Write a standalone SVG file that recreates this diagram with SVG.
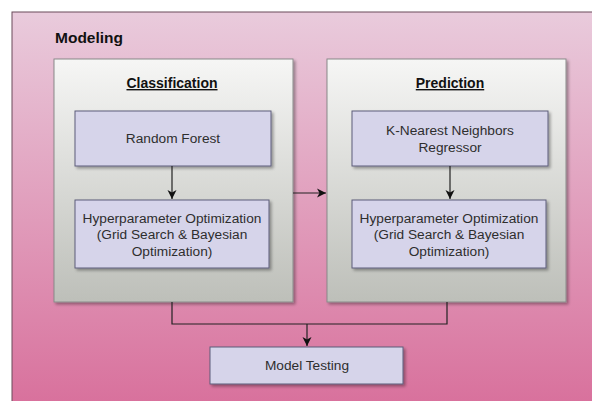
<svg xmlns="http://www.w3.org/2000/svg" width="592" height="401" viewBox="0 0 592 401">
<defs>
<linearGradient id="pink" x1="0" y1="0" x2="0" y2="1">
<stop offset="0" stop-color="#e9cbdc"/>
<stop offset="1" stop-color="#d86f9b"/>
</linearGradient>
<linearGradient id="gray" x1="0" y1="0" x2="0" y2="1">
<stop offset="0" stop-color="#f6f6f5"/>
<stop offset="1" stop-color="#bdbfb9"/>
</linearGradient>
<filter id="sh" x="-10%" y="-10%" width="130%" height="130%">
<feGaussianBlur in="SourceAlpha" stdDeviation="1.5"/>
<feOffset dx="2" dy="2"/>
<feComponentTransfer><feFuncA type="linear" slope="0.35"/></feComponentTransfer>
<feMerge><feMergeNode/><feMergeNode in="SourceGraphic"/></feMerge>
</filter>
<marker id="arr" markerWidth="10" markerHeight="10" refX="9" refY="5" orient="auto" markerUnits="userSpaceOnUse">
<path d="M0,0.5 L9,5 L0,9.5 L2.5,5 Z" fill="#111"/>
</marker>
</defs>
<style>
.t{font-family:"Liberation Sans",Arial,sans-serif;font-size:13.7px;fill:#2e2e2e;text-anchor:middle}
.h{font-family:"Liberation Sans",Arial,sans-serif;font-size:14px;font-weight:bold;fill:#111;text-anchor:middle;text-decoration:underline}
.node{fill:#d6d4ea;stroke:#5c5c7a;stroke-width:1}
.grp{fill:url(#gray);stroke:#8a8a8a;stroke-width:1}
.c{fill:none;stroke:#222;stroke-width:1.2}
</style>
<rect x="0" y="0" width="592" height="401" fill="#ffffff"/>
<g id="modeling">
<rect x="12" y="12" width="600" height="400" fill="url(#pink)" stroke="#6a4a5a" stroke-width="1"/>
<text x="55" y="43" style="font-family:'Liberation Sans',Arial,sans-serif;font-size:15.5px;font-weight:bold;fill:#111">Modeling</text>
</g>
<g id="classification">
<rect class="grp" x="54" y="59" width="239" height="243" filter="url(#sh)"/>
<text class="h" x="172" y="88">Classification</text>
</g>
<g id="prediction">
<rect class="grp" x="327" y="59" width="239" height="243" filter="url(#sh)"/>
<text class="h" x="450" y="88">Prediction</text>
</g>
<g id="random-forest">
<rect class="node" x="75" y="111" width="196" height="55" filter="url(#sh)"/>
<text class="t" x="173" y="143">Random Forest</text>
</g>
<g id="hpo-left">
<rect class="node" x="75" y="200" width="194" height="68" filter="url(#sh)"/>
<text class="t" x="172" y="223">Hyperparameter Optimization</text>
<text class="t" x="172" y="239">(Grid Search &amp; Bayesian</text>
<text class="t" x="172" y="256">Optimization)</text>
</g>
<g id="knn">
<rect class="node" x="352" y="111" width="196" height="55" filter="url(#sh)"/>
<text class="t" x="450" y="135">K-Nearest Neighbors</text>
<text class="t" x="450" y="152">Regressor</text>
</g>
<g id="hpo-right">
<rect class="node" x="352" y="200" width="194" height="68" filter="url(#sh)"/>
<text class="t" x="449" y="223">Hyperparameter Optimization</text>
<text class="t" x="449" y="239">(Grid Search &amp; Bayesian</text>
<text class="t" x="449" y="256">Optimization)</text>
</g>
<g id="model-testing">
<rect class="node" x="210" y="347" width="193" height="37" filter="url(#sh)"/>
<text class="t" x="307" y="370">Model Testing</text>
</g>
<g id="connectors">
<path class="c" d="M172,166 L172,199" marker-end="url(#arr)"/>
<path class="c" d="M450,166 L450,199" marker-end="url(#arr)"/>
<path class="c" d="M293,193 L326,193" marker-end="url(#arr)"/>
<path class="c" d="M172,302 L172,324 L447,324 L447,302"/>
<path class="c" d="M307,324 L307,346" marker-end="url(#arr)"/>
</g>
</svg>
